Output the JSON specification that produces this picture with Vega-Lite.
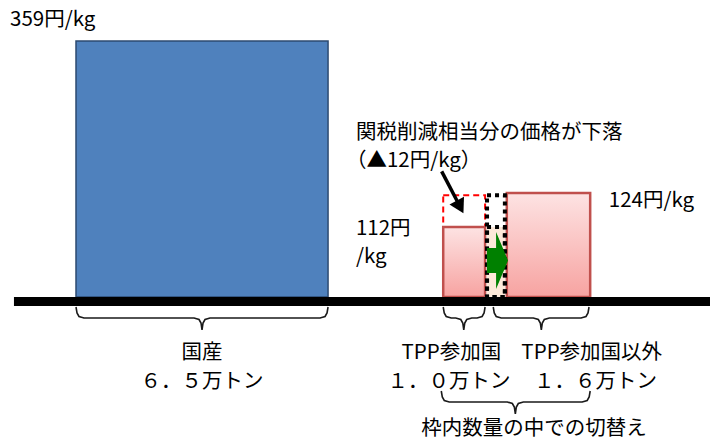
{
  "$schema": "https://vega.github.io/schema/vega-lite/v6.json",
  "width": 710,
  "height": 442,
  "autosize": {"type": "fit", "contains": "padding"},
  "padding": 0,
  "background": "white",
  "config": {"view": {"stroke": null}},
  "datasets": {
    "blocks": [
      {"part": "国産", "x": 0, "x2": 6.5, "y": 0, "y2": 359},
      {"part": "TPP参加国", "x": 9.47, "x2": 10.55, "y": 0, "y2": 112},
      {"part": "TPP参加国以外", "x": 11.11, "x2": 13.26, "y": 0, "y2": 124}
    ],
    "priceGap": [{"x": 9.47, "x2": 10.55, "y": 112, "y2": 123.2}],
    "shiftFill": [{"x": 10.6, "x2": 11.06, "y": 0, "y2": 112}],
    "shiftBoxes": [
      {"x": 10.6, "x2": 11.06, "y": 0, "y2": 123.2},
      {"x": 10.6, "x2": 11.06, "y": 0, "y2": 112}
    ],
    "baseline": [{"x": -1.6, "x2": 16.35, "y": -9, "y2": 0}],
    "dropShaft": [{"x": 9.43, "y": 157.5, "x2": 9.89, "y2": 119.6}],
    "dropHead": [{"x": 9.905, "y": 119.1}],
    "shiftArrow": [{"x": 10.87, "y": 58.4}],
    "braces": [
      {"brace": "a", "i": 1, "x": 0, "y": -10},
      {"brace": "a", "i": 2, "x": 0.026, "y": -16},
      {"brace": "a", "i": 3, "x": 0.077, "y": -19.5},
      {"brace": "a", "i": 4, "x": 0.206, "y": -21},
      {"brace": "a", "i": 5, "x": 3.044, "y": -21},
      {"brace": "a", "i": 6, "x": 3.173, "y": -22.5},
      {"brace": "a", "i": 7, "x": 3.224, "y": -26},
      {"brace": "a", "i": 8, "x": 3.25, "y": -33},
      {"brace": "a", "i": 9, "x": 3.276, "y": -26},
      {"brace": "a", "i": 10, "x": 3.327, "y": -22.5},
      {"brace": "a", "i": 11, "x": 3.456, "y": -21},
      {"brace": "a", "i": 12, "x": 6.294, "y": -21},
      {"brace": "a", "i": 13, "x": 6.423, "y": -19.5},
      {"brace": "a", "i": 14, "x": 6.474, "y": -16},
      {"brace": "a", "i": 15, "x": 6.5, "y": -10},
      {"brace": "b", "i": 1, "x": 9.47, "y": -10},
      {"brace": "b", "i": 2, "x": 9.496, "y": -16},
      {"brace": "b", "i": 3, "x": 9.547, "y": -19.5},
      {"brace": "b", "i": 4, "x": 9.676, "y": -21},
      {"brace": "b", "i": 5, "x": 9.794, "y": -21},
      {"brace": "b", "i": 6, "x": 9.923, "y": -22.5},
      {"brace": "b", "i": 7, "x": 9.974, "y": -26},
      {"brace": "b", "i": 8, "x": 10.0, "y": -33},
      {"brace": "b", "i": 9, "x": 10.026, "y": -26},
      {"brace": "b", "i": 10, "x": 10.077, "y": -22.5},
      {"brace": "b", "i": 11, "x": 10.206, "y": -21},
      {"brace": "b", "i": 12, "x": 10.344, "y": -21},
      {"brace": "b", "i": 13, "x": 10.473, "y": -19.5},
      {"brace": "b", "i": 14, "x": 10.524, "y": -16},
      {"brace": "b", "i": 15, "x": 10.55, "y": -10},
      {"brace": "c", "i": 1, "x": 10.76, "y": -10},
      {"brace": "c", "i": 2, "x": 10.786, "y": -16},
      {"brace": "c", "i": 3, "x": 10.837, "y": -19.5},
      {"brace": "c", "i": 4, "x": 10.966, "y": -21},
      {"brace": "c", "i": 5, "x": 11.794, "y": -21},
      {"brace": "c", "i": 6, "x": 11.923, "y": -22.5},
      {"brace": "c", "i": 7, "x": 11.974, "y": -26},
      {"brace": "c", "i": 8, "x": 12.0, "y": -33},
      {"brace": "c", "i": 9, "x": 12.026, "y": -26},
      {"brace": "c", "i": 10, "x": 12.077, "y": -22.5},
      {"brace": "c", "i": 11, "x": 12.206, "y": -21},
      {"brace": "c", "i": 12, "x": 13.024, "y": -21},
      {"brace": "c", "i": 13, "x": 13.153, "y": -19.5},
      {"brace": "c", "i": 14, "x": 13.204, "y": -16},
      {"brace": "c", "i": 15, "x": 13.23, "y": -10},
      {"brace": "d", "i": 1, "x": 9.42, "y": -94},
      {"brace": "d", "i": 2, "x": 9.446, "y": -100},
      {"brace": "d", "i": 3, "x": 9.497, "y": -103.5},
      {"brace": "d", "i": 4, "x": 9.626, "y": -105},
      {"brace": "d", "i": 5, "x": 11.124, "y": -105},
      {"brace": "d", "i": 6, "x": 11.253, "y": -106.5},
      {"brace": "d", "i": 7, "x": 11.304, "y": -110},
      {"brace": "d", "i": 8, "x": 11.33, "y": -117},
      {"brace": "d", "i": 9, "x": 11.356, "y": -110},
      {"brace": "d", "i": 10, "x": 11.407, "y": -106.5},
      {"brace": "d", "i": 11, "x": 11.536, "y": -105},
      {"brace": "d", "i": 12, "x": 13.054, "y": -105},
      {"brace": "d", "i": 13, "x": 13.183, "y": -103.5},
      {"brace": "d", "i": 14, "x": 13.234, "y": -100},
      {"brace": "d", "i": 15, "x": 13.26, "y": -94}
    ],
    "leftLabels": [
      {"text": "359円/kg", "x": -1.7, "y": 391.3},
      {"text": "関税削減相当分の価格が下落", "x": 7.22, "y": 216.8},
      {"text": "（▲12円/kg）", "x": 6.96, "y": 173.5},
      {"text": "112円", "x": 7.22, "y": 108.8},
      {"text": "/kg", "x": 7.22, "y": 64},
      {"text": "124円/kg", "x": 13.74, "y": 121.2}
    ],
    "centerLabels": [
      {"text": "国産", "x": 3.25, "y": -56},
      {"text": "６．５万トン", "x": 3.25, "y": -85},
      {"text": "TPP参加国", "x": 9.68, "y": -56},
      {"text": "１．０万トン", "x": 9.62, "y": -85},
      {"text": "TPP参加国以外", "x": 13.3, "y": -56},
      {"text": "１．６万トン", "x": 13.4, "y": -85},
      {"text": "枠内数量の中での切替え", "x": 11.81, "y": -132}
    ]
  },
  "encoding": {
    "x": {
      "field": "x",
      "type": "quantitative",
      "scale": {"domain": [-1.96, 16.35], "nice": false, "zero": false},
      "axis": null
    },
    "y": {
      "field": "y",
      "type": "quantitative",
      "scale": {
        "domain": [-145, 0, 112, 124, 359, 422],
        "range": [442, 297, 227, 193, 41, 0],
        "nice": false,
        "zero": false
      },
      "axis": null
    }
  },
  "layer": [
    {
      "data": {"name": "blocks"},
      "transform": [{"filter": "datum.part === '国産'"}],
      "mark": {"type": "rect", "fill": "#4f81bd", "stroke": "#2c4a70", "strokeWidth": 1.5},
      "encoding": {"x2": {"field": "x2"}, "y2": {"field": "y2"}}
    },
    {
      "data": {"name": "priceGap"},
      "mark": {"type": "rect", "fill": null, "stroke": "#ff0000", "strokeWidth": 2, "strokeDash": [6, 4]},
      "encoding": {"x2": {"field": "x2"}, "y2": {"field": "y2"}}
    },
    {
      "data": {"name": "blocks"},
      "transform": [{"filter": "datum.part !== '国産'"}],
      "mark": {
        "type": "rect",
        "fill": {
          "gradient": "linear",
          "x1": 0, "y1": 0, "x2": 0, "y2": 1,
          "stops": [
            {"offset": 0, "color": "#fde3e3"},
            {"offset": 1, "color": "#f7a3a1"}
          ]
        },
        "stroke": "#c0504d",
        "strokeWidth": 2.5
      },
      "encoding": {"x2": {"field": "x2"}, "y2": {"field": "y2"}}
    },
    {
      "data": {"name": "shiftFill"},
      "mark": {"type": "rect", "fill": "#fde9d9"},
      "encoding": {"x2": {"field": "x2"}, "y2": {"field": "y2"}}
    },
    {
      "data": {"name": "shiftBoxes"},
      "mark": {"type": "rect", "fill": null, "stroke": "#000000", "strokeWidth": 4, "strokeDash": [4, 4]},
      "encoding": {"x2": {"field": "x2"}, "y2": {"field": "y2"}}
    },
    {
      "data": {"name": "shiftArrow"},
      "mark": {
        "type": "point",
        "filled": true,
        "opacity": 1,
        "color": "#008000",
        "size": 3249,
        "shape": "M-0.37,-0.44L-0.05,-0.44L-0.05,-1L0.37,0L-0.05,1L-0.05,0.44L-0.37,0.44Z"
      },
      "encoding": {}
    },
    {
      "data": {"name": "dropShaft"},
      "mark": {"type": "rule", "color": "#000000", "strokeWidth": 3.5},
      "encoding": {"x2": {"field": "x2"}, "y2": {"field": "y2"}}
    },
    {
      "data": {"name": "dropHead"},
      "mark": {"type": "point", "shape": "triangle-up", "filled": true, "opacity": 1, "color": "#000000", "size": 270, "angle": 152},
      "encoding": {}
    },
    {
      "data": {"name": "baseline"},
      "mark": {"type": "rect", "fill": "#000000"},
      "encoding": {"x2": {"field": "x2"}, "y2": {"field": "y2"}}
    },
    {
      "data": {"name": "braces"},
      "mark": {"type": "line", "color": "#1a1a1a", "strokeWidth": 1.6, "interpolate": "linear"},
      "encoding": {
        "detail": {"field": "brace"},
        "order": {"field": "i", "type": "quantitative"}
      }
    },
    {
      "data": {"name": "leftLabels"},
      "mark": {"type": "text", "align": "left", "baseline": "middle", "font": "Noto Sans CJK JP", "fontSize": 20.5, "color": "#000000"},
      "encoding": {"text": {"field": "text"}}
    },
    {
      "data": {"name": "centerLabels"},
      "mark": {"type": "text", "align": "center", "baseline": "middle", "font": "Noto Sans CJK JP", "fontSize": 20.5, "color": "#000000"},
      "encoding": {"text": {"field": "text"}}
    }
  ]
}
